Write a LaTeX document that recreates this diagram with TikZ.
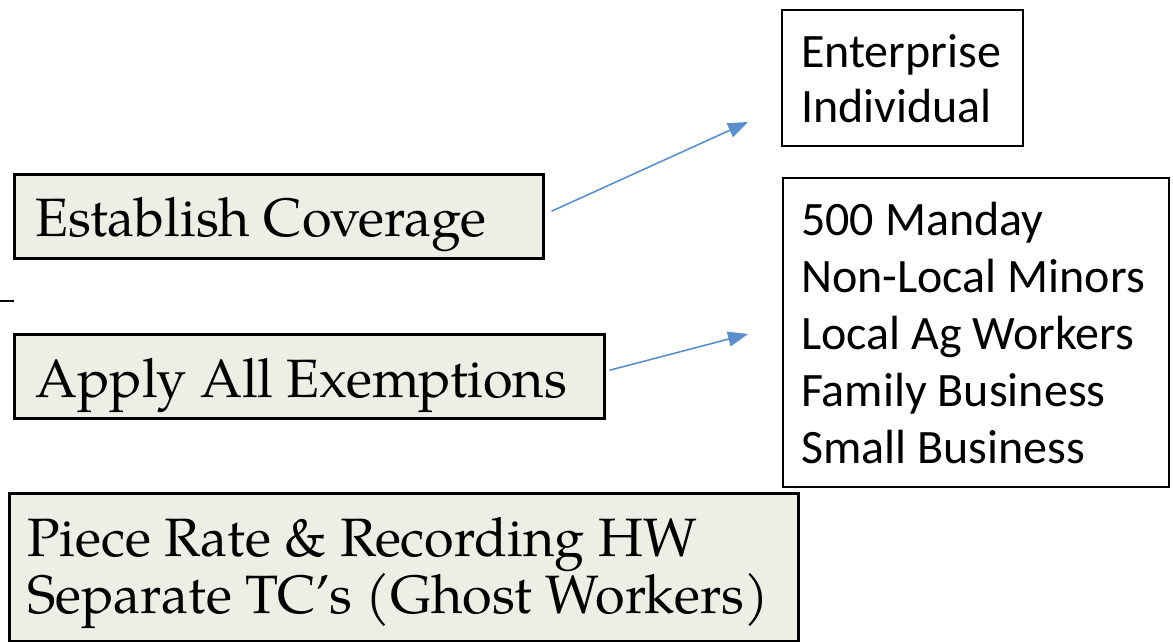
\documentclass[tikz,border=0pt]{standalone}
\usepackage{fontspec}
\newfontfamily\calibrifont{Carlito}
\newfontfamily\palfont{TeX Gyre Pagella}
\usetikzlibrary{arrows.meta}
\definecolor{boxfill}{HTML}{EEEEE6}
\definecolor{linkblue}{HTML}{5B8FCB}
\tikzset{
  panel/.style={draw=black, line width=2.5pt, inner sep=0pt, anchor=north west},
  greypanel/.style={panel, fill=boxfill},
  whitepanel/.style={panel, line width=2pt, fill=white},
  serifline/.style={font=\palfont\fontsize{54}{57}\selectfont, inner sep=0pt, anchor=base west},
  sansline/.style={font=\calibrifont\fontsize{48}{57}\selectfont, inner sep=0pt, anchor=base west},
  link/.style={draw=linkblue, line width=1.6pt, -{Triangle[length=20pt, width=15pt]}}
}
\begin{document}
\begin{tikzpicture}[x=1pt,y=-1pt]
\useasboundingbox (0,0) rectangle (1173,642);

% left column: the three steps
\node[greypanel, minimum width=529pt, minimum height=84pt] (cov) at (13,173) {};
\node[serifline] (covtext) at (35,236) {Establish Coverage};

\node[greypanel, minimum width=590pt, minimum height=84pt] (exm) at (13,333) {};
\node[serifline] (exmtext) at (35,397) {Apply All Exemptions};

\node[greypanel, minimum width=789pt, minimum height=148pt] (pr) at (8,492) {};
\node[serifline] (prtext1) at (27,556) {Piece Rate \& Recording HW};
\node[serifline] (prtext2) at (27,613) {Separate TC’s (Ghost Workers)};

% right column: details
\node[whitepanel, minimum width=241pt, minimum height=136pt] (ent) at (781,9) {};
\node[sansline] (ent1) at (801,67) {Enterprise};
\node[sansline] (ent2) at (801,122) {Individual};

\node[whitepanel, minimum width=386pt, minimum height=309pt] (lst) at (782,177) {};
\node[sansline] (lst1) at (801,235) {500 Manday};
\node[sansline] (lst2) at (801,292) {Non-Local Minors};
\node[sansline] (lst3) at (801,349) {Local Ag Workers};
\node[sansline] (lst4) at (801,406) {Family Business};
\node[sansline] (lst5) at (801,463) {Small Business};

% connectors
\coordinate (covtip) at (748,122);
\coordinate (exmtip) at (748,334);
\draw[link] ([xshift=7pt,yshift=5pt]cov.east) -- (covtip);
\draw[link] ([xshift=4pt,yshift=6pt]exm.east) -- (exmtip);

% short stray tick at the left edge
\draw[line width=2.5pt] (0,301) -- (14,301);
\end{tikzpicture}
\end{document}
